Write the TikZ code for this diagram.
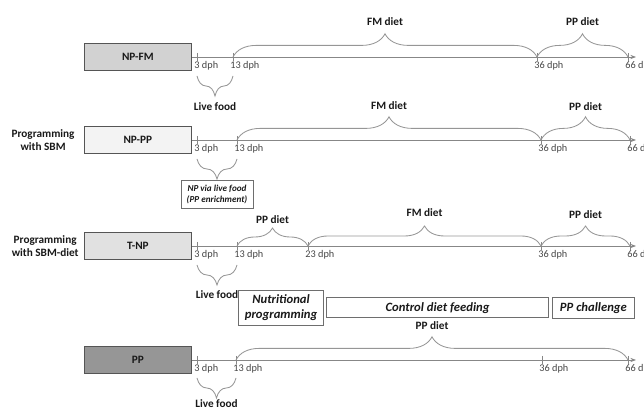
\documentclass[tikz,border=0pt]{standalone}
\usepackage{fontspec}
\setmainfont{Carlito}
\usetikzlibrary{arrows.meta, positioning, calc, decorations.pathreplacing}
\definecolor{mydark}{RGB}{25,25,25}
\definecolor{boxline}{RGB}{85,85,85}
\definecolor{phaseline}{RGB}{110,110,110}
\definecolor{axisgray}{RGB}{135,135,135}
\definecolor{bracegray}{RGB}{150,150,150}
\definecolor{daygray}{RGB}{70,70,70}
\definecolor{fillfm}{RGB}{210,210,210}
\definecolor{fillpp}{RGB}{243,243,243}
\definecolor{filltnp}{RGB}{225,225,225}
\definecolor{filldark}{RGB}{150,150,150}
\tikzset{
  grpbox/.style={rectangle, draw=boxline, line width=0.8pt,
    minimum width=2.68cm, minimum height=0.68cm, inner sep=0pt,
    font=\fontsize{8}{9}\selectfont\bfseries, text=mydark, anchor=east},
  phasebox/.style={rectangle, draw=phaseline, line width=0.6pt,
    inner sep=0pt, align=center, text=mydark,
    font=\fontsize{9}{11}\selectfont\bfseries\itshape},
  sidelabel/.style={align=center, inner sep=0pt, text=mydark,
    font=\fontsize{8}{9.5}\selectfont\bfseries},
  dietlabel/.style={inner sep=1pt, text=mydark,
    font=\fontsize{8}{9}\selectfont\bfseries},
  daylabel/.style={anchor=north west, inner sep=0pt, text=daygray,
    xshift=-2pt, yshift=-3pt, font=\fontsize{7.3}{8}\selectfont},
  daytick/.style={draw=axisgray, line width=0.5pt},
  axis/.style={draw=axisgray, line width=0.6pt, -{Stealth[length=4pt, width=3pt]}},
  topbrace/.style={decorate, decoration={brace, amplitude=0.58cm},
    draw=bracegray, line width=0.6pt},
  lowbrace/.style={decorate, decoration={brace, mirror, amplitude=0.5cm},
    draw=bracegray, line width=0.6pt}
}

\begin{document}
\begin{tikzpicture}[x=0.025cm, y=-0.025cm]
  \useasboundingbox (0,0) rectangle (644,411);

  % --- NP-FM
  \node[grpbox, fill=fillfm] (npfm) at (192,57) {NP-FM};
  \coordinate (r1end) at (636,57);
  \draw[axis] (npfm.east) -- (r1end);
  \foreach \x/\d in {197/3, 233/13, 537/36, 628/66} {
    \coordinate (r1t\d) at (\x,57);
    \draw[daytick] (\x,53) -- (\x,61);
    \node[daylabel] at (r1t\d) {\d\ dph};
  }
  \draw[topbrace] (r1t13) -- (r1t36) node[dietlabel, midway, above=0.74cm] (r1fm) {FM diet};
  \draw[topbrace] (r1t36) -- (r1t66) node[dietlabel, midway, above=0.74cm] (r1pp) {PP diet};
  \draw[lowbrace] ($(r1t3)+(0,19)$) -- ($(r1t13)+(0,19)$) node[dietlabel, midway, below=0.62cm] (r1live) {Live food};

  % --- NP-PP
  \node[grpbox, fill=fillpp] (nppp) at (192,140) {NP-PP};
  \node[sidelabel, left=0.22cm of nppp] (sbm) {Programming\\with SBM};
  \coordinate (r2end) at (636,140);
  \draw[axis] (nppp.east) -- (r2end);
  \foreach \x/\d in {197/3, 237/13, 541/36, 630/66} {
    \coordinate (r2t\d) at (\x,140);
    \draw[daytick] (\x,136) -- (\x,144);
    \node[daylabel] at (r2t\d) {\d\ dph};
  }
  \draw[topbrace] (r2t13) -- (r2t36) node[dietlabel, midway, above=0.72cm] (r2fm) {FM diet};
  \draw[topbrace] (r2t36) -- (r2t66) node[dietlabel, midway, above=0.68cm] (r2pp) {PP diet};
  \draw[lowbrace] ($(r2t3)+(0,19)$) -- ($(r2t13)+(0,19)$)
    node[phasebox, midway, below=0.52cm, minimum width=1.8cm, minimum height=0.7cm,
      font=\fontsize{6.5}{8}\selectfont\bfseries\itshape] (nplive) {NP via live food\\(PP enrichment)};

  % --- T-NP
  \node[grpbox, fill=filltnp] (tnp) at (192,246) {T-NP};
  \node[sidelabel, left=0.12cm of tnp] (sbmdiet) {Programming\\with SBM-diet};
  \coordinate (r3end) at (636,246);
  \draw[axis] (tnp.east) -- (r3end);
  \foreach \x/\d in {197/3, 237/13, 308/23, 541/36, 630/66} {
    \coordinate (r3t\d) at (\x,246);
    \draw[daytick] (\x,242) -- (\x,250);
    \node[daylabel] at (r3t\d) {\d\ dph};
  }
  \draw[topbrace, decoration={amplitude=0.45cm}] (r3t13) -- (r3t23) node[dietlabel, midway, above=0.52cm] (r3pp) {PP diet};
  \draw[topbrace, decoration={amplitude=0.5cm}] (r3t23) -- (r3t36) node[dietlabel, midway, above=0.68cm] (r3fm) {FM diet};
  \draw[topbrace, decoration={amplitude=0.5cm}] (r3t36) -- (r3t66) node[dietlabel, midway, above=0.64cm] (r3ppc) {PP diet};
  \draw[lowbrace] ($(r3t3)+(0,19)$) -- ($(r3t13)+(0,19)$) node[dietlabel, midway, below=0.6cm] (r3live) {Live food};

  % feeding phases
  \node[phasebox, anchor=north west, minimum width=2.13cm, minimum height=0.87cm] (nutprog) at (238,290) {Nutritional\\programming};
  \node[phasebox, minimum width=5.55cm, minimum height=0.5cm, right=0.05cm of nutprog] (ctrl) {Control diet feeding};
  \node[phasebox, minimum width=2.05cm, minimum height=0.52cm, right=0.075cm of ctrl] (chal) {PP challenge};

  % --- PP
  \node[grpbox, fill=filldark] (pp) at (192,360) {PP};
  \coordinate (r4end) at (636,360);
  \draw[axis] (pp.east) -- (r4end);
  \foreach \x/\d in {197/3, 236/13, 542/36, 628/66} {
    \coordinate (r4t\d) at (\x,360);
    \draw[daytick] (\x,356) -- (\x,364);
    \node[daylabel] at (r4t\d) {\d\ dph};
  }
  \draw[topbrace] (r4t13) -- (r4t66) node[dietlabel, midway, above=0.72cm] (r4pp) {PP diet};
  \draw[lowbrace] ($(r4t3)+(0,18)$) -- ($(r4t13)+(0,18)$) node[dietlabel, midway, below=0.5cm] (r4live) {Live food};
\end{tikzpicture}
\end{document}
